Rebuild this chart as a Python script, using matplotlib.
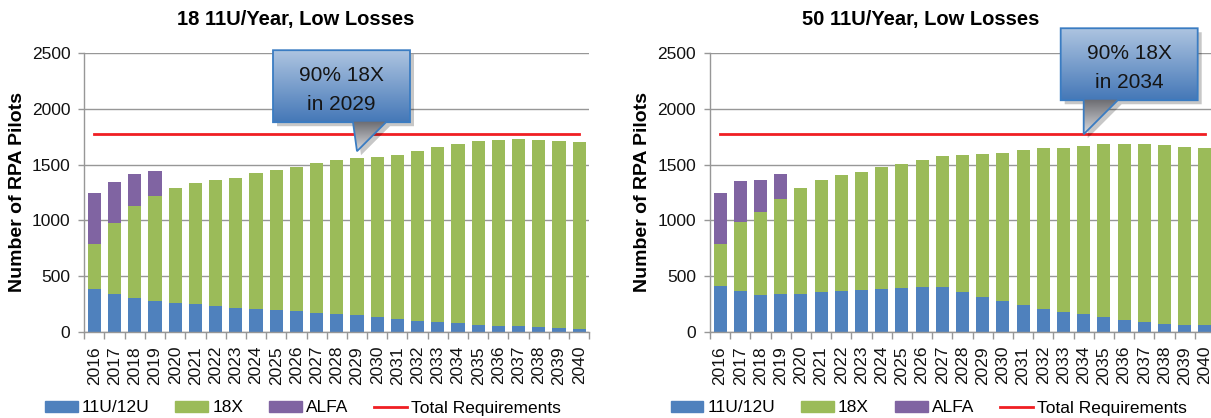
import numpy as np
import matplotlib
matplotlib.use("Agg")
import matplotlib.pyplot as plt
from matplotlib.patches import Polygon, Patch
from matplotlib.lines import Line2D

plt.rcParams['font.family'] = ['Liberation Sans', 'DejaVu Sans']

years = [str(y) for y in range(2016, 2041)]

titles = ["18 11U/Year, Low Losses", "50 11U/Year, Low Losses"]
series_names = ["11U/12U", "18X", "ALFA", "Total Requirements"]

u11_left = [382, 340, 301, 278, 262, 248, 233, 218, 209, 198, 189, 174, 165,
            156, 138, 118, 101, 86, 77, 65, 56, 50, 41, 32, 27]
x18_left = [403, 638, 827, 940, 1032, 1091, 1129, 1166, 1212, 1254, 1292, 1343,
            1373, 1406, 1433, 1468, 1524, 1569, 1608, 1646, 1664, 1679, 1679,
            1679, 1678]
alfa_left = [458, 368, 287, 226, 0, 0, 0, 0, 0, 0, 0, 0, 0, 0, 0, 0, 0, 0, 0,
             0, 0, 0, 0, 0, 0]
req_left = [1772, 1772, 1772, 1772, 1772, 1772, 1772, 1772, 1772, 1772, 1772,
            1772, 1772, 1772, 1772, 1772, 1772, 1772, 1772, 1772, 1772, 1772,
            1772, 1772, 1772]

u11_right = [414, 369, 330, 339, 344, 360, 369, 375, 381, 390, 399, 399, 360,
             315, 276, 243, 210, 180, 159, 135, 111, 90, 75, 66, 66]
x18_right = [375, 614, 743, 854, 948, 998, 1034, 1058, 1097, 1118, 1139, 1178,
             1225, 1277, 1331, 1385, 1442, 1472, 1508, 1547, 1571, 1592, 1598,
             1595, 1586]
alfa_right = [461, 366, 291, 225, 0, 0, 0, 0, 0, 0, 0, 0, 0, 0, 0, 0, 0, 0, 0,
              0, 0, 0, 0, 0, 0]
req_right = [1772, 1772, 1772, 1772, 1772, 1772, 1772, 1772, 1772, 1772, 1772,
             1772, 1772, 1772, 1772, 1772, 1772, 1772, 1772, 1772, 1772, 1772,
             1772, 1772, 1772]

callout_text = [["90% 18X", "in 2029"], ["90% 18X", "in 2034"]]
callout_year = ["2029", "2034"]
callout_value = [1620, 1772]

C_BLUE = '#4F81BD'
C_GREEN = '#9BBB59'
C_PURPLE = '#8064A2'
C_RED = '#F01E23'
C_GRID = '#979797'

W, H = 1211, 418
fig = plt.figure(figsize=(W / 100, H / 100), dpi=100)

ax_rects = [(84.3, 505), (710, 505)]
top_px, bot_px = 53, 332
# box offsets relative to the tip (pixels): box x0,x1,y0,y1 ; pointer base x0,x1
callout_geom = [(-84, 53, -101, -29, -4, 29), (-23, 114, -106, -34, 0, 34)]
title_x = [295.5, 921]

data = [(u11_left, x18_left, alfa_left, req_left),
        (u11_right, x18_right, alfa_right, req_right)]

axes = []
for i, (u11, x18, alfa, req) in enumerate(data):
    lx, wx = ax_rects[i]
    ax = fig.add_axes([lx / W, 1 - bot_px / H, wx / W, (bot_px - top_px) / H])
    axes.append(ax)
    x = np.arange(len(years))
    u11 = np.array(u11); x18 = np.array(x18); alfa = np.array(alfa)
    bw = 0.65
    ax.bar(x, u11, bw, color=C_BLUE, zorder=2)
    ax.bar(x, x18, bw, bottom=u11, color=C_GREEN, zorder=2)
    ax.bar(x, alfa, bw, bottom=u11 + x18, color=C_PURPLE, zorder=2)
    ax.plot(x, req, color=C_RED, lw=2.0, zorder=3)
    ax.set_xlim(-0.5, len(years) - 0.5)
    ax.set_ylim(0, 2500)
    ax.set_yticks(range(0, 2501, 500))
    ax.set_yticklabels([str(v) for v in range(0, 2501, 500)], fontsize=12.5, color='#111111')
    ax.yaxis.grid(True, color=C_GRID, lw=1.0, zorder=0)
    ax.set_axisbelow(True)
    ax.set_xticks(x)
    ax.set_xticklabels(years, rotation=90, fontsize=12.5, color='#111111')
    ax.set_xticks(np.arange(-0.5, len(years), 1.0), minor=True)
    ax.tick_params(axis='x', which='major', length=0, pad=10)
    ax.tick_params(axis='x', which='minor', length=5, color=C_GRID, width=1)
    ax.tick_params(axis='y', length=4, color=C_GRID, width=1, pad=6)
    for s in ['top', 'right']:
        ax.spines[s].set_visible(False)
    for s in ['left', 'bottom']:
        ax.spines[s].set_color(C_GRID)
        ax.spines[s].set_linewidth(1.0)
    ax.set_ylabel("Number of RPA Pilots", fontsize=14, fontweight='bold')
    ax.yaxis.label.set_va('center')
    ax.yaxis.set_label_coords(-67 / wx, 0.5)
    fig.text(title_x[i] / W, 1 - 20 / H, titles[i], fontsize=14.5,
             fontweight='bold', ha='center', va='center')

    handles = [Patch(color=C_BLUE), Patch(color=C_GREEN), Patch(color=C_PURPLE),
               Line2D([0], [0], color=C_RED, lw=2.0)]
    fig.legend(handles, series_names, loc='center left',
               bbox_to_anchor=((lx - 39.5) / W, 1 - 408 / H), ncol=4,
               frameon=False, fontsize=12.5, handlelength=1.9,
               handleheight=0.62, handletextpad=0.22, columnspacing=1.5,
               borderpad=0, borderaxespad=0)

# overlay axes in pixel coordinates for the callouts
ov = fig.add_axes([0, 0, 1, 1], zorder=10)
ov.set_xlim(0, W)
ov.set_ylim(H, 0)
ov.axis('off')

fig.canvas.draw()
for i, ax in enumerate(axes):
    xi = years.index(callout_year[i])
    dx, dy = ax.transData.transform((xi, callout_value[i]))
    tx, ty = dx, H - dy
    bx0, bx1, by0, by1, px0, px1 = callout_geom[i]
    X0, X1, Y0, Y1 = tx + bx0, tx + bx1, ty + by0, ty + by1
    P0, P1 = tx + px0, tx + px1
    outline = [(X0, Y0), (X1, Y0), (X1, Y1), (P1, Y1), (tx, ty), (P0, Y1), (X0, Y1)]
    # shadow
    sh = Polygon([(px + 4, py + 4) for px, py in outline], closed=True,
                 facecolor='#000000', alpha=0.22, edgecolor='none', zorder=1)
    ov.add_patch(sh)
    # box gradient
    box = Polygon([(X0, Y0), (X1, Y0), (X1, Y1), (X0, Y1)], closed=True,
                  facecolor='none', edgecolor='none', zorder=2)
    ov.add_patch(box)
    grad = np.linspace(0, 1, 100).reshape(-1, 1)
    top_c = np.array([0.68, 0.77, 0.88])
    bot_c = np.array([0.27, 0.47, 0.72])
    img = top_c[None, None, :] * (1 - grad[:, :, None]) + bot_c[None, None, :] * grad[:, :, None]
    im = ov.imshow(img, extent=(X0, X1, Y1, Y0), aspect='auto', zorder=2,
                   interpolation='bicubic')
    im.set_clip_path(box)
    # pointer gradient (grey shadowed)
    ptr = Polygon([(P0, Y1 - 0.5), (P1, Y1 - 0.5), (tx, ty)], closed=True,
                  facecolor='none', edgecolor='none', zorder=2)
    ov.add_patch(ptr)
    pt_top = np.array([0.42, 0.42, 0.44])
    pt_bot = np.array([0.85, 0.86, 0.88])
    img2 = pt_top[None, None, :] * (1 - grad[:, :, None]) + pt_bot[None, None, :] * grad[:, :, None]
    im2 = ov.imshow(img2, extent=(min(P0, tx), max(P1, tx), ty, Y1 - 0.5),
                    aspect='auto', zorder=2, interpolation='bicubic')
    im2.set_clip_path(ptr)
    ov.add_patch(Polygon(outline, closed=True, facecolor='none',
                         edgecolor='#3A7CC2', lw=1.3, zorder=3))
    cx = (X0 + X1) / 2
    ov.text(cx, Y0 + 25, callout_text[i][0], fontsize=15, ha='center',
            va='center', color='#151515', zorder=4)
    ov.text(cx, Y0 + 54, callout_text[i][1], fontsize=15, ha='center',
            va='center', color='#151515', zorder=4)

ov.set_xlim(0, W)
ov.set_ylim(H, 0)
fig.savefig("out.png", dpi=100)
